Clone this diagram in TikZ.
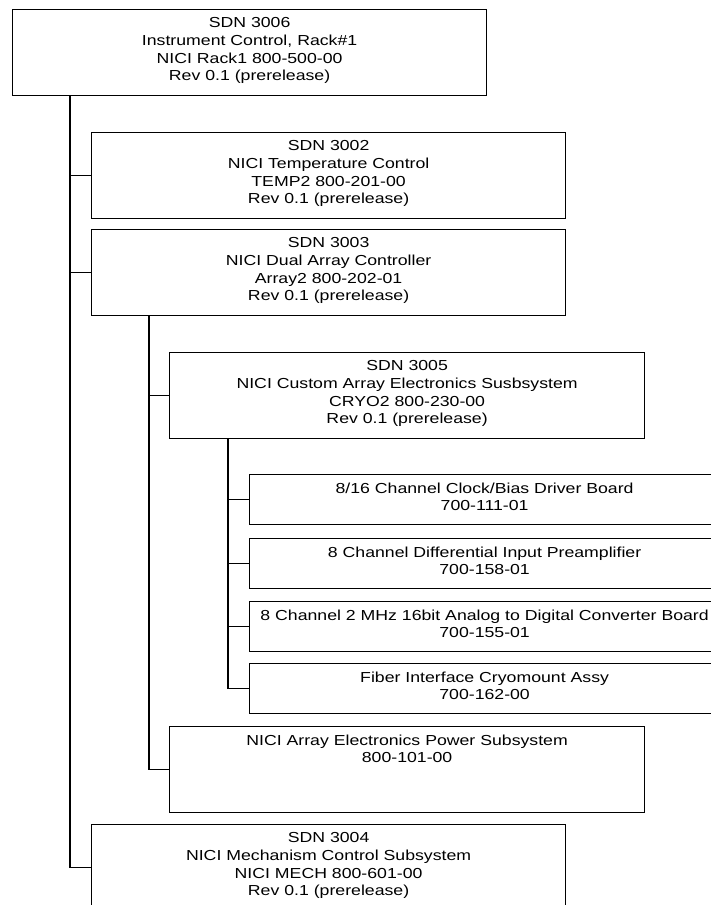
\documentclass[tikz,border=0pt]{standalone}
\usepackage{fontspec}
\setmainfont{Liberation Sans}[FakeStretch=1.22]
\begin{document}
\begin{tikzpicture}[x=1pt, y=-1pt, line width=1.2pt,
    unit/.style={draw, inner sep=0, anchor=north west, minimum width=474pt, minimum height=86pt},
    leaf/.style={unit, minimum width=470pt, minimum height=50pt},
    caption/.style={anchor=north, align=center, inner sep=0, font=\fontsize{14.5}{17.7}\selectfont}]
  \useasboundingbox (0,0) rectangle (711,905);
  \clip (0,0) rectangle (711,905);
  % boxes
  \node[unit] (root) at (12,9) {};
  \node[caption] (root-t) at ([yshift=-8pt]root.north) {SDN 3006\\Instrument Control, Rack\#1\\NICI Rack1 800-500-00\\Rev 0.1 (prerelease)};
  \node[unit] (s3002) at (91,132) {};
  \node[caption] (s3002-t) at ([yshift=-8pt]s3002.north) {SDN 3002\\NICI Temperature Control\\TEMP2 800-201-00\\Rev 0.1 (prerelease)};
  \node[unit] (s3003) at (91,229) {};
  \node[caption] (s3003-t) at ([yshift=-8pt]s3003.north) {SDN 3003\\NICI Dual Array Controller\\Array2 800-202-01\\Rev 0.1 (prerelease)};
  \node[unit, minimum width=475pt] (s3005) at (169,352) {};
  \node[caption] (s3005-t) at ([yshift=-8pt]s3005.north) {SDN 3005\\NICI Custom Array Electronics Susbsystem\\CRYO2 800-230-00\\Rev 0.1 (prerelease)};
  \node[leaf] (clock) at (249,474) {};
  \node[caption] (clock-t) at ([yshift=-8pt]clock.north) {8/16 Channel Clock/Bias Driver Board\\700-111-01};
  \node[leaf] (preamp) at (249,538) {};
  \node[caption] (preamp-t) at ([yshift=-8pt]preamp.north) {8 Channel Differential Input Preamplifier\\700-158-01};
  \node[leaf] (adc) at (249,601) {};
  \node[caption] (adc-t) at ([yshift=-8pt]adc.north) {8 Channel 2 MHz 16bit Analog to Digital Converter Board\\700-155-01};
  \node[leaf] (fiber) at (249,663) {};
  \node[caption] (fiber-t) at ([yshift=-8pt]fiber.north) {Fiber Interface Cryomount Assy\\700-162-00};
  \node[unit, minimum width=475pt] (power) at (169,726) {};
  \node[caption] (power-t) at ([yshift=-8pt]power.north) {NICI Array Electronics Power Subsystem\\800-101-00};
  \node[unit] (s3004) at (91,824) {};
  \node[caption] (s3004-t) at ([yshift=-8pt]s3004.north) {SDN 3004\\NICI Mechanism Control Subsystem\\NICI MECH 800-601-00\\Rev 0.1 (prerelease)};
  % tree lines
  \coordinate (t1) at ([xshift=58pt]root.south west);
  \draw (t1) |- (s3002.west);
  \draw (t1) |- (s3003.west);
  \draw (t1) |- (s3004.west);
  \coordinate (t2) at ([xshift=58pt]s3003.south west);
  \draw (t2) |- (s3005.west);
  \draw (t2) |- (power.west);
  \coordinate (t3) at ([xshift=59pt]s3005.south west);
  \draw (t3) |- (clock.west);
  \draw (t3) |- (preamp.west);
  \draw (t3) |- (adc.west);
  \draw (t3) |- (fiber.west);
\end{tikzpicture}
\end{document}
